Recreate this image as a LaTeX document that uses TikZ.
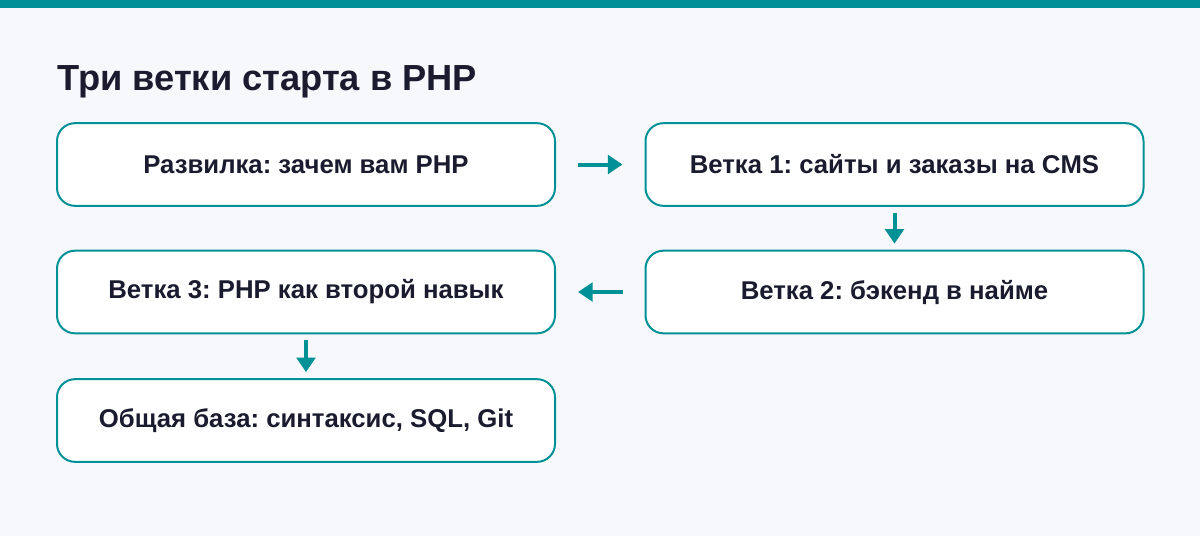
\documentclass[tikz,border=0pt]{standalone}
\usepackage{fontspec}
\setmainfont{Liberation Sans}
\usetikzlibrary{arrows.meta}
\frenchspacing

\definecolor{brandteal}{RGB}{0,145,150}
\definecolor{pagebg}{RGB}{247,248,252}
\definecolor{inkdark}{RGB}{26,27,46}

\tikzset{
    stepbox/.style={draw=brandteal, line width=1.5pt, fill=white, rounded corners=13.5pt,
        minimum width=373.5pt, minimum height=62pt, text=inkdark,
        font=\fontsize{19.3}{23}\selectfont\bfseries},
    flow/.style={draw=brandteal, line width=3pt, -{Triangle[length=11pt,width=14pt]}}
}

\begin{document}
\begin{tikzpicture}[x=0.75pt, y=-0.75pt]
    % Background and top bar
    \fill[pagebg] (0,0) rectangle (1200,536);
    \fill[brandteal] (0,0) rectangle (1200,8);
    \useasboundingbox (0,0) rectangle (1200,536);

    % Title
    \node[anchor=base west, text=inkdark, inner sep=0pt,
        font=\fontsize{27.2}{33}\selectfont\bfseries] (title) at (57,90) {Три ветки старта в PHP};

    % Boxes
    \node[stepbox] (fork) at (306,164.5) {Развилка: зачем вам PHP};
    \node[stepbox] (cms) at (894.5,164.5) {Ветка 1: сайты и заказы на CMS};
    \node[stepbox] (backend) at (894.5,292) {Ветка 2: бэкенд в найме};
    \node[stepbox] (second) at (306,292) {Ветка 3: PHP как второй навык};
    \node[stepbox] (base) at (306,420.5) {Общая база: синтаксис, SQL, Git};

    % Arrows
    \draw[flow, shorten <=16.5pt, shorten >=16.5pt] (fork.east) -- (cms.west);
    \draw[flow, shorten <=4.5pt, shorten >=4.5pt] (cms.south) -- (backend.north);
    \draw[flow, shorten <=16.5pt, shorten >=16.5pt] (backend.west) -- (second.east);
    \draw[flow, shorten <=4.5pt, shorten >=4.5pt] (second.south) -- (base.north);
\end{tikzpicture}
\end{document}
